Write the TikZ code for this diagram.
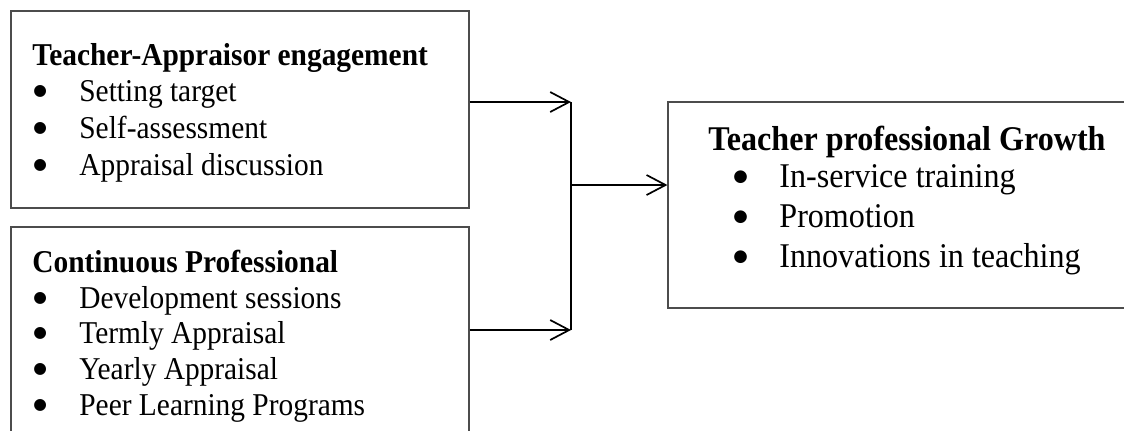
\documentclass[tikz,border=0pt]{standalone}
\usepackage{fontspec}
\setmainfont{Liberation Serif}
\newfontfamily\symf{DejaVu Sans}
\usetikzlibrary{arrows.meta}
\newcommand{\vst}[1]{\scalebox{1}[1.08]{#1}}
\begin{document}
\begin{tikzpicture}[x=0.5pt,y=-0.5pt,
  box/.style={draw=black!70, line width=0.6pt, inner sep=0pt},
  arr/.style={-{Straight Barb[length=9.5pt,width=10pt,line width=0.85pt]}, line width=0.85pt},
  lft/.style={anchor=base west, inner sep=0pt, font=\fontsize{14.7}{17}\selectfont},
  rgt/.style={anchor=base west, inner sep=0pt, font=\fontsize{16.05}{19}\selectfont},
  bl/.style={anchor=base west, inner sep=0pt, font=\symf\fontsize{7.8}{9}\selectfont},
  br/.style={anchor=base west, inner sep=0pt, font=\symf\fontsize{8.3}{9}\selectfont}]
\clip (0,0) rectangle (1124,430);
\fill[white] (0,0) rectangle (1124,430);
% boxes
\node[box, minimum width=229pt, minimum height=98.5pt] (box1) at (240,109.5) {};
\node[box, minimum width=229pt, minimum height=116.5pt] (box2) at (240,343.5) {};
\node[box, minimum width=241pt, minimum height=103pt] (box3) at (909,205) {};
% box 1 text
\node[lft] (h1) at (32,65) {\vst{\bfseries Teacher-Appraisor engagement}};
\node[bl] (b11) at (33,95) {●};
\node[lft] (t11) at (79,101) {\vst{Setting target}};
\node[bl] (b12) at (33,132) {●};
\node[lft] (t12) at (79,138) {\vst{Self-assessment}};
\node[bl] (b13) at (33,169) {●};
\node[lft] (t13) at (79,175) {\vst{Appraisal discussion}};
% box 2 text
\node[lft] (h2) at (32,272) {\vst{\bfseries Continuous Professional}};
\node[bl] (b21) at (33,302) {●};
\node[lft] (t21) at (79,308) {\vst{Development sessions}};
\node[bl] (b22) at (33,337) {●};
\node[lft] (t22) at (79,343) {\vst{Termly Appraisal}};
\node[bl] (b23) at (33,373) {●};
\node[lft] (t23) at (79,379) {\vst{Yearly Appraisal}};
\node[bl] (b24) at (33,409) {●};
\node[lft] (t24) at (79,415) {\vst{Peer Learning Programs}};
% box 3 text
\node[rgt] (h3) at (708,150) {\vst{\bfseries Teacher professional Growth}};
\node[br] (b31) at (733,181) {●};
\node[rgt] (t31) at (779,187) {\vst{In-service training}};
\node[br] (b32) at (733,221) {●};
\node[rgt] (t32) at (779,227) {\vst{Promotion}};
\node[br] (b33) at (733,261) {●};
\node[rgt] (t33) at (779,267) {\vst{Innovations in teaching}};
% connectors
\coordinate (jt) at (571,102);
\coordinate (jb) at (571,330);
\coordinate (jm) at (571,185);
\draw[arr] (box1.east |- jt) -- (jt);
\draw[arr] (box2.east |- jb) -- (jb);
\draw[line width=0.85pt] (jt) -- (jb);
\draw[arr] (jm) -- (jm -| box3.west);
\end{tikzpicture}
\end{document}
